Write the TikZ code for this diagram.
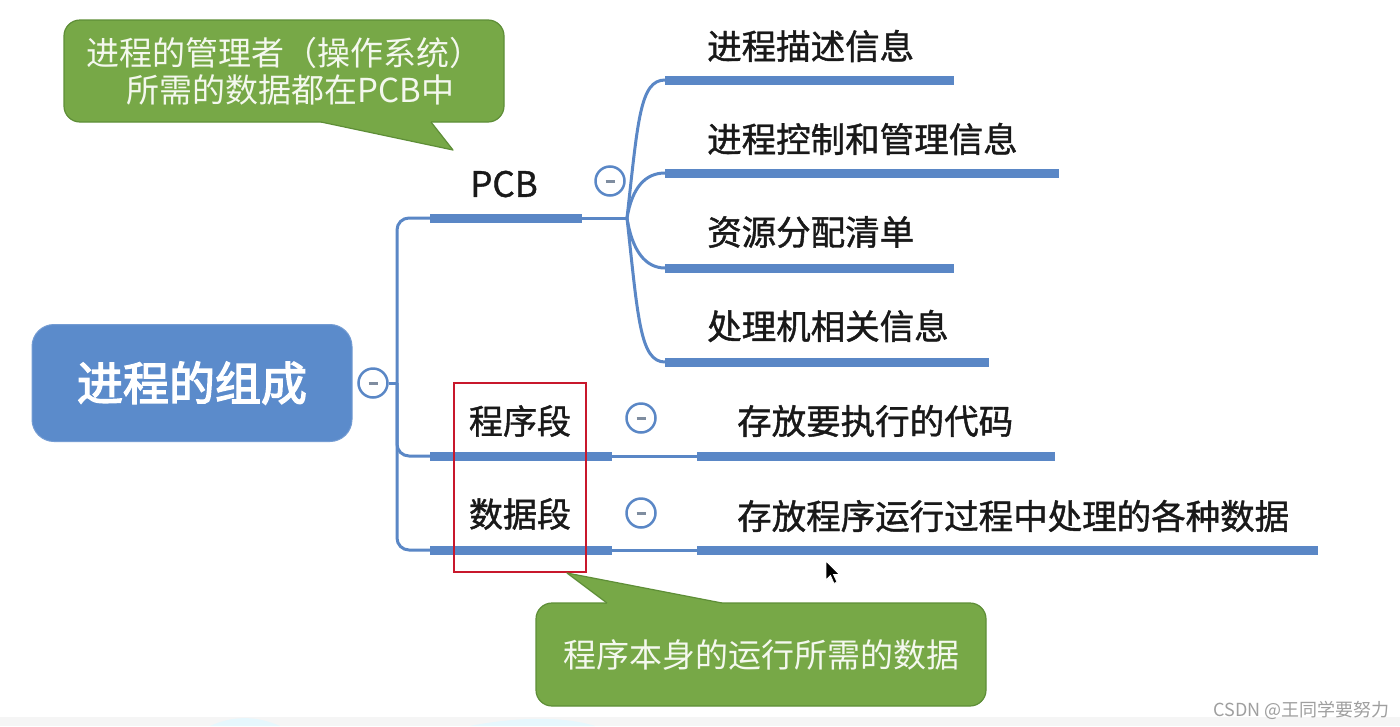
\documentclass[tikz,border=0pt]{standalone}
\usepackage{fontspec}
\newfontfamily\cjk{Noto Sans CJK SC}
\newfontfamily\cjkb[FakeBold=3]{Noto Sans CJK SC}
\newfontfamily\cjkm[FakeBold=1.2]{Noto Sans CJK SC}
\definecolor{barc}{HTML}{5A87C6}
\definecolor{rootfill}{HTML}{5B8BCB}
\definecolor{cgreen}{HTML}{77A847}
\definecolor{cgreenD}{HTML}{5E8E37}
\definecolor{redbox}{HTML}{C8182C}
\definecolor{minusc}{HTML}{7F8DA0}
\definecolor{calltext}{HTML}{F4F8EE}
\tikzset{
  barline/.style={line width=9pt, draw=barc},
  thinline/.style={line width=3pt, draw=barc},
  collapse/.style={circle, draw=barc, line width=2.5pt, fill=white, minimum size=29pt, inner sep=0pt},
  rootbox/.style={rounded corners=22pt, fill=rootfill, draw=rootfill!85!white, line width=1pt,
    minimum width=320pt, minimum height=117pt, text=white, font=\cjkb\fontsize{46}{50}\selectfont},
  leaf/.style={font=\cjkm\fontsize{34.5}{40}\selectfont, anchor=west, inner sep=0pt, text=black!90},
  midlabel/.style={font=\cjkm\fontsize{34}{40}\selectfont, inner sep=0pt, text=black!90},
  callout/.style={fill=cgreen, draw=cgreenD, line width=1.2pt, rounded corners=16pt,
    text=calltext, font=\cjk\fontsize{33}{37}\selectfont, align=center, inner sep=0pt},
  minusmark/.style={draw=minusc, line width=3pt}
}
\begin{document}
\begin{tikzpicture}[x=1pt,y=-1pt]
\useasboundingbox (0,0) rectangle (1400,726);
\fill[white] (0,0) rectangle (1400,726);
% bottom strip
\fill[gray!8] (0,717) rectangle (1400,726);
\fill[cyan!10] (210,726) .. controls (232,716) and (255,715) .. (280,726) -- cycle;
\fill[cyan!10] (470,726) .. controls (510,718) and (560,715) .. (595,726) -- cycle;

% root
\node[rootbox] (root) at (192,383) {进程的组成};
\node[collapse] (c0) at (373,383) {};
\draw[minusmark] ([xshift=-4.5pt]c0.center) -- ([xshift=4.5pt]c0.center);
\coordinate (j) at (397,383);
\draw[thinline] (c0.east) -- (j);

% PCB branch
\coordinate (pcbA) at (430,218);
\coordinate (pcbB) at (582,218);
\coordinate (fork) at (627,218);
\draw[thinline, rounded corners=12pt] (j) |- (pcbA);
\draw[barline] (pcbA) -- (pcbB);
\draw[thinline] (pcbB) -- (fork);
\node[midlabel, font=\cjkm\fontsize{35}{40}\selectfont] (pcb) at (504,184) {PCB};
\node[collapse] (cP) at (610,181) {};
\draw[minusmark] ([xshift=-4.5pt]cP.center) -- ([xshift=4.5pt]cP.center);

% PCB sub items
\coordinate (s1a) at (665,80);  \coordinate (s1b) at (954,80);
\coordinate (s2a) at (665,173); \coordinate (s2b) at (1059,173);
\coordinate (s3a) at (665,268); \coordinate (s3b) at (954,268);
\coordinate (s4a) at (665,362); \coordinate (s4b) at (989,362);
\draw[thinline] (fork) .. controls (638,120) and (640,80) .. (s1a);
\draw[thinline] (fork) .. controls (632,188) and (645,173) .. (s2a);
\draw[thinline] (fork) .. controls (632,250) and (645,268) .. (s3a);
\draw[thinline] (fork) .. controls (638,318) and (640,362) .. (s4a);
\draw[barline] (s1a) -- (s1b);
\draw[barline] (s2a) -- (s2b);
\draw[barline] (s3a) -- (s3b);
\draw[barline] (s4a) -- (s4b);
\node[leaf] (t1) at (707,46) {进程描述信息};
\node[leaf] (t2) at (707,139) {进程控制和管理信息};
\node[leaf] (t3) at (707,232) {资源分配清单};
\node[leaf] (t4) at (707,326) {处理机相关信息};

% program segment
\coordinate (p1a) at (430,456); \coordinate (p1b) at (612,456);
\coordinate (p2a) at (697,456); \coordinate (p2b) at (1055,456);
\draw[thinline, rounded corners=12pt] (j) |- (p1a);
\draw[barline] (p1a) -- (p1b);
\draw[thinline] (p1b) -- (p2a);
\draw[barline] (p2a) -- (p2b);
\node[midlabel] (prog) at (520,421) {程序段};
\node[collapse] (cS) at (641,418) {};
\draw[minusmark] ([xshift=-4.5pt]cS.center) -- ([xshift=4.5pt]cS.center);
\node[leaf] (t5) at (737,421) {存放要执行的代码};

% data segment
\coordinate (d1a) at (430,550); \coordinate (d1b) at (612,550);
\coordinate (d2a) at (697,550); \coordinate (d2b) at (1318,550);
\draw[thinline, rounded corners=12pt] (j) |- (d1a);
\draw[barline] (d1a) -- (d1b);
\draw[thinline] (d1b) -- (d2a);
\draw[barline] (d2a) -- (d2b);
\node[midlabel] (data) at (520,514) {数据段};
\node[collapse] (cD) at (641,513) {};
\draw[minusmark] ([xshift=-4.5pt]cD.center) -- ([xshift=4.5pt]cD.center);
\node[leaf] (t6) at (737,516) {存放程序运行过程中处理的各种数据};

% red box
\node[draw=redbox, line width=2.5pt, minimum width=132pt, minimum height=189pt, inner sep=0pt] (rb) at (520,477.5) {};

% callout 1
\node[callout, minimum width=440pt, minimum height=102pt] (cal1) at (284,71) {进程的管理者（操作系统）\\\hspace*{0.4em}所需的数据都在PCB中};
\coordinate (tip1) at (453,150);
\fill[cgreen] (321,118) -- (321,122) -- (tip1) -- (431,122) -- (431,118) -- cycle;
\draw[cgreenD, line width=1.2pt, line join=round] (321,122) -- (tip1) -- (431,122);

% callout 2
\node[callout, minimum width=450pt, minimum height=103pt] (cal2) at (761,654.5) {程序本身的运行所需的数据};
\coordinate (tip2) at (567,573);
\fill[cgreen] (607,607) -- (607,603) -- (tip2) -- (722,603) -- (722,607) -- cycle;
\draw[cgreenD, line width=1.2pt, line join=round] (607,603) -- (tip2) -- (722,603);

% mouse cursor
\filldraw[fill=black, draw=white, line width=0.8pt] (826,561) -- (826,580) -- (830.5,575.5) -- (834,583.5) -- (837,582) -- (833.5,574.5) -- (839.5,574.5) -- cycle;

% watermark
\node[font=\cjk\fontsize{18}{20}\selectfont, text=gray!75, anchor=east, inner sep=0pt] (wm) at (1390,710) {CSDN @王同学要努力};
\end{tikzpicture}
\end{document}
